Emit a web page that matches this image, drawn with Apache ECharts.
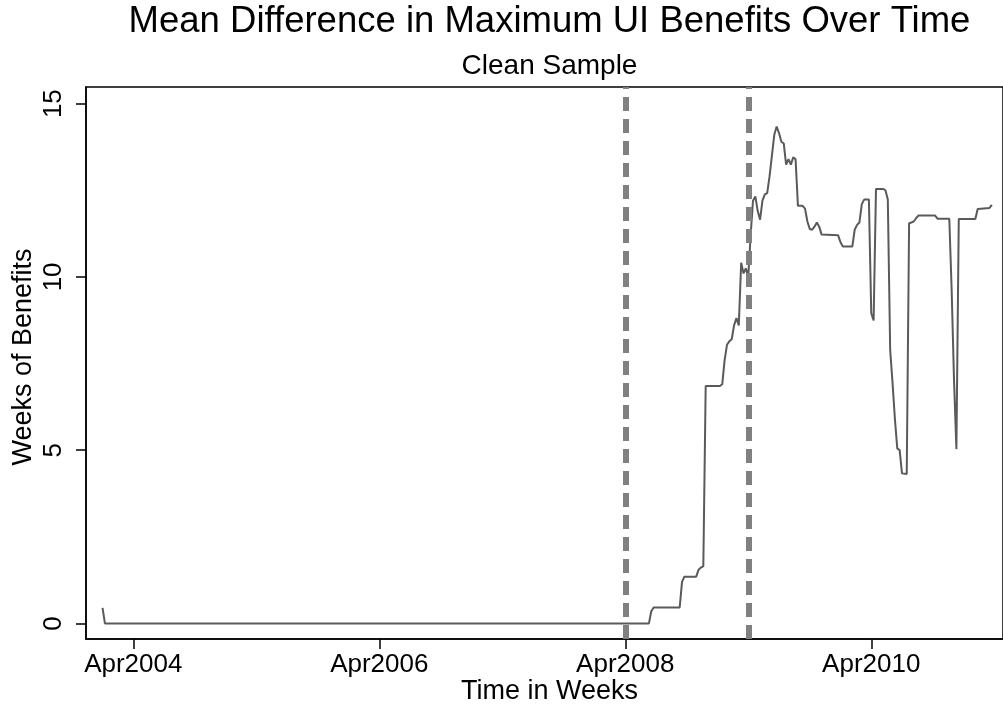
<!DOCTYPE html>
<html>
<head>
<meta charset="utf-8">
<script src="https://cdn.jsdelivr.net/npm/echarts@6/dist/echarts.min.js"></script>
<style>
html,body{margin:0;padding:0;background:#fff;}
#c{width:1003px;height:709px;}
</style>
</head>
<body>
<div id="c"></div>
<script>
// Week index: 0 = 2004w1 (Stata weekly dates, 52 weeks per year)
var weeks = [0, 1, 231, 232, 233, 244, 245, 246, 251, 252, 253, 254, 255, 261, 262, 263, 264, 265, 266, 267, 268, 269, 270, 271, 272, 273, 274, 275, 276, 277, 278, 279, 280, 281, 282, 283, 284, 285, 286, 287, 288, 289, 290, 291, 292, 293, 294, 296, 297, 298, 299, 300, 301, 302, 303, 304, 311, 312, 313, 317, 318, 319, 320, 321, 322, 324, 325, 326, 327, 330, 331, 332, 333, 334, 335, 336, 337, 338, 340, 341, 342, 343, 344, 345, 352, 353, 358, 359, 360, 361, 362, 369, 370, 375, 376];
var values = [0.45, 0, 0, 0.35, 0.46, 0.46, 1.2, 1.35, 1.35, 1.55, 1.61, 1.65, 6.85, 6.85, 6.9, 7.6, 8.04, 8.14, 8.2, 8.6, 8.81, 8.6, 10.41, 10.1, 10.25, 10.0, 11.2, 12.2, 12.32, 11.9, 11.65, 12.2, 12.38, 12.42, 12.9, 13.5, 14.1, 14.34, 14.15, 13.9, 13.85, 13.24, 13.4, 13.24, 13.45, 13.4, 12.05, 12.05, 11.97, 11.6, 11.38, 11.36, 11.45, 11.57, 11.45, 11.22, 11.2, 11.0, 10.88, 10.88, 11.36, 11.5, 11.57, 12.1, 12.23, 12.23, 8.95, 8.74, 12.54, 12.54, 12.5, 12.23, 7.89, 6.94, 5.9, 5.05, 5.0, 4.33, 4.31, 11.55, 11.57, 11.6, 11.7, 11.77, 11.77, 11.68, 11.68, 9.6, 7.0, 5.03, 11.67, 11.67, 11.96, 11.99, 12.08];
var xTickWeeks = [13, 117, 221, 325];
var xTickLabels = ['Apr2004', 'Apr2006', 'Apr2008', 'Apr2010'];
var yTicks = [0, 5, 10, 15];
var refWeeks = [221, 273]; // Apr2008, Apr2009

var FONT = '"Liberation Sans", Arial, Helvetica, sans-serif';
var chart = echarts.init(document.getElementById('c'), null, {renderer: 'canvas'});

var lineData = weeks.map(function (w, i) { return [w, values[i]]; });

chart.setOption({
  animation: false,
  backgroundColor: '#fff',
  grid: {
    left: 86, top: 87, right: -2, bottom: 70,
    show: true, borderColor: '#000', borderWidth: 1.5, backgroundColor: '#fff'
  },
  xAxis: {
    type: 'value',
    min: -7, max: 380.7,
    splitLine: {show: false},
    axisLine: {show: true, onZero: false, lineStyle: {color: '#000', width: 1.5}},
    axisTick: {show: true, length: 10, customValues: xTickWeeks, lineStyle: {color: '#000', width: 1.5}},
    axisLabel: {
      show: true, customValues: xTickWeeks, margin: 13,
      fontFamily: FONT, fontSize: 26, color: '#000',
      formatter: function (v) { var i = xTickWeeks.indexOf(v); return i >= 0 ? xTickLabels[i] : ''; }
    }
  },
  yAxis: {
    type: 'value',
    min: -0.45, max: 15.48,
    splitLine: {show: false},
    axisLine: {show: true, onZero: false, lineStyle: {color: '#000', width: 1.5}},
    axisTick: {show: true, length: 10, customValues: yTicks, lineStyle: {color: '#000', width: 1.5}},
    axisLabel: {
      show: true, customValues: yTicks, margin: 19, rotate: 90,
      fontFamily: FONT, fontSize: 26, color: '#000'
    }
  },
  graphic: [
    {type: 'text', x: 549.5, y: 21.5, z: 10, style: {text: 'Mean Difference in Maximum UI Benefits Over Time', font: '36.5px ' + FONT, fill: '#000', textAlign: 'center', textVerticalAlign: 'middle'}},
    {type: 'text', x: 549.5, y: 66.5, z: 10, style: {text: 'Clean Sample', font: '28px ' + FONT, fill: '#000', textAlign: 'center', textVerticalAlign: 'middle'}},
    {type: 'text', x: 549.5, y: 692, z: 10, style: {text: 'Time in Weeks', font: '27px ' + FONT, fill: '#000', textAlign: 'center', textVerticalAlign: 'middle'}},
    {type: 'text', x: 24, y: 357, rotation: Math.PI / 2, z: 10, style: {text: 'Weeks of Benefits', font: '27px ' + FONT, fill: '#000', textAlign: 'center', textVerticalAlign: 'middle'}}
  ],
  series: [
    {
      type: 'line', data: [], z: 1, silent: true,
      markLine: {
        silent: true, symbol: ['none', 'none'], label: {show: false},
        lineStyle: {color: '#808080', width: 6, type: [14, 8]},
        data: refWeeks.map(function (w) { return {xAxis: w}; })
      }
    },
    {
      type: 'line', data: lineData, z: 3, showSymbol: false, symbol: 'none',
      lineStyle: {color: '#5a5a5a', width: 2}
    }
  ]
});
</script>
</body>
</html>
